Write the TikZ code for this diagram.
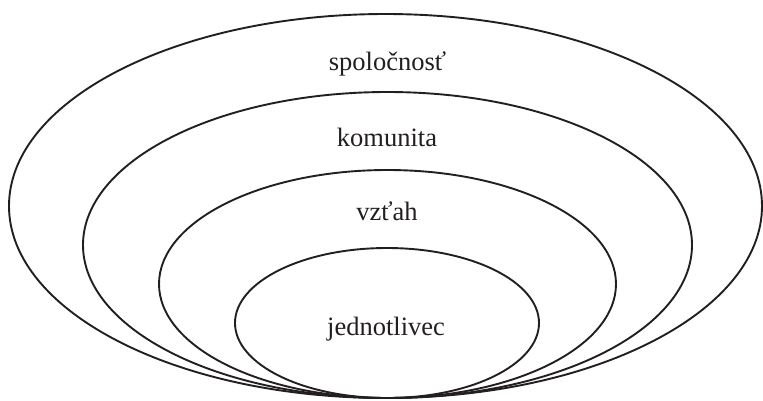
\documentclass[tikz,border=0pt]{standalone}
\usepackage{fontspec}
\setmainfont{Liberation Serif}
\definecolor{ink}{HTML}{231F20}
\begin{document}
\begin{tikzpicture}[x=1pt,y=-1pt,
  ring/.style={draw=ink,line width=1.9pt},
  lbl/.style={anchor=base,inner sep=0pt,text=ink,font=\fontsize{26.5}{30}\selectfont}]
\useasboundingbox (0,0) rectangle (763,400);
\draw[ring] (385.5,206) ellipse [x radius=376.5, y radius=192];
\draw[ring] (387.5,245) ellipse [x radius=304.5, y radius=153];
\draw[ring] (387.5,284) ellipse [x radius=228.5, y radius=114];
\draw[ring] (387,323) ellipse [x radius=152, y radius=75];
\node[lbl] (spol) at (387.5,70.5) {spoločnosť};
\node[lbl] (kom) at (387,146) {komunita};
\node[lbl] (vz) at (387,220.5) {vzťah};
\node[lbl] (jed) at (386,335.5) {jednotlivec};
\end{tikzpicture}
\end{document}
